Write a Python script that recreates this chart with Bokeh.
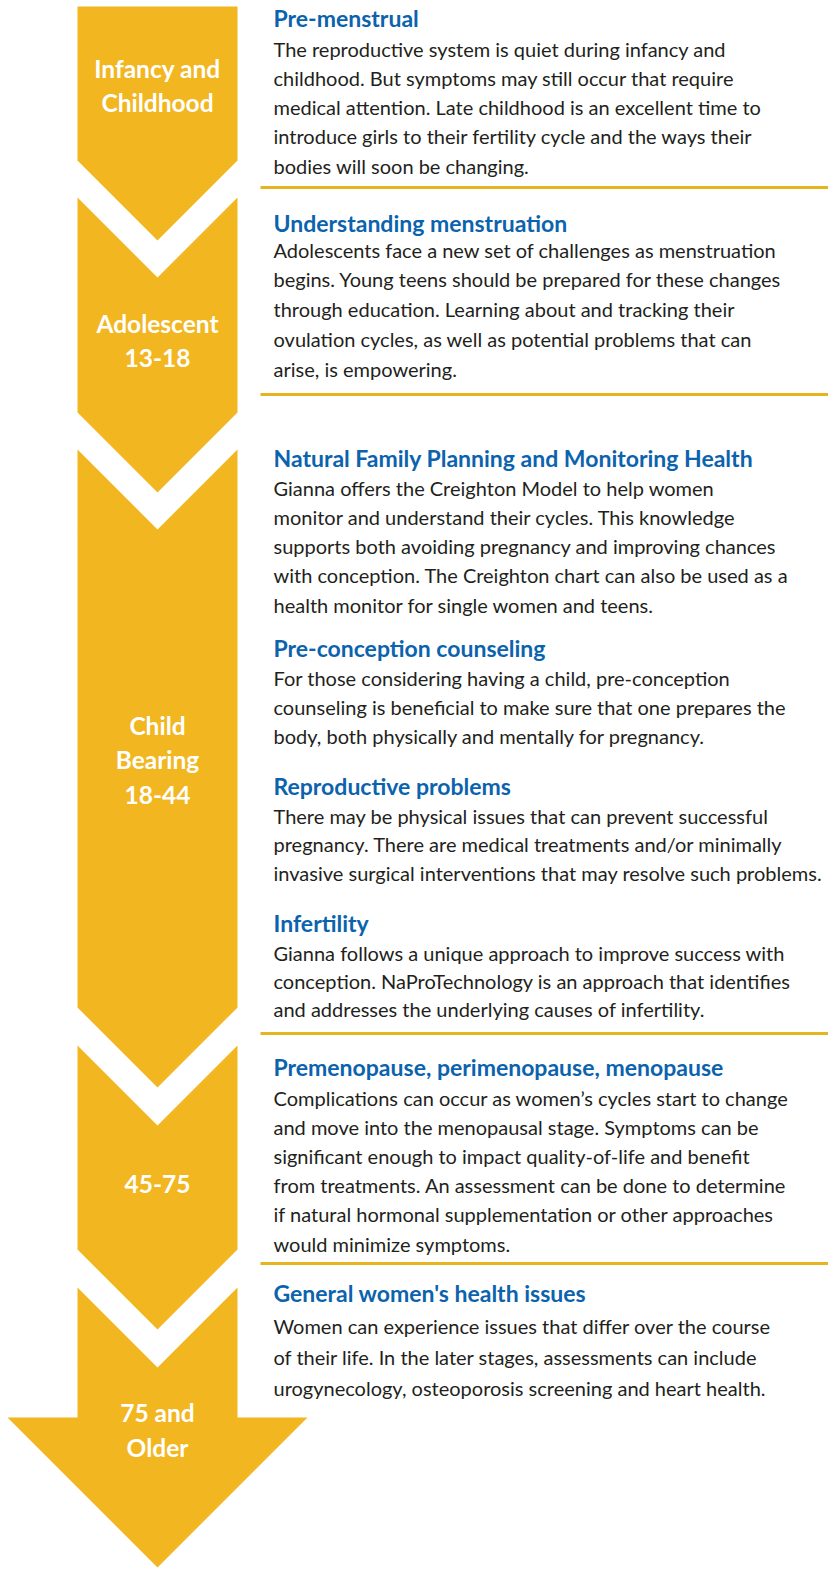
from bokeh.plotting import figure
from bokeh.models import Range1d
from bokeh.core.properties import value
from bokeh.embed import file_html
from bokeh.resources import INLINE

# ---------------- data ----------------
stage_labels = [
    ["Infancy and", "Childhood"],
    ["Adolescent", "13-18"],
    ["Child", "Bearing", "18-44"],
    ["45-75"],
    ["75 and", "Older"],
]

headings = [
    "Pre-menstrual",
    "Understanding menstruation",
    "Natural Family Planning and Monitoring Health",
    "Pre-conception counseling",
    "Reproductive problems",
    "Infertility",
    "Premenopause, perimenopause, menopause",
    "General women's health issues",
]

bodies = [
    ["The reproductive system is quiet during infancy and",
     "childhood. But symptoms may still occur that require",
     "medical attention. Late childhood is an excellent time to",
     "introduce girls to their fertility cycle and the ways their",
     "bodies will soon be changing."],
    ["Adolescents face a new set of challenges as menstruation",
     "begins. Young teens should be prepared for these changes",
     "through education. Learning about and tracking their",
     "ovulation cycles, as well as potential problems that can",
     "arise, is empowering."],
    ["Gianna offers the Creighton Model to help women",
     "monitor and understand their cycles. This knowledge",
     "supports both avoiding pregnancy and improving chances",
     "with conception. The Creighton chart can also be used as a",
     "health monitor for single women and teens."],
    ["For those considering having a child, pre-conception",
     "counseling is beneficial to make sure that one prepares the",
     "body, both physically and mentally for pregnancy."],
    ["There may be physical issues that can prevent successful",
     "pregnancy. There are medical treatments and/or minimally",
     "invasive surgical interventions that may resolve such problems."],
    ["Gianna follows a unique approach to improve success with",
     "conception. NaProTechnology is an approach that identifies",
     "and addresses the underlying causes of infertility."],
    ["Complications can occur as women\u2019s cycles start to change",
     "and move into the menopausal stage. Symptoms can be",
     "significant enough to impact quality-of-life and benefit",
     "from treatments. An assessment can be done to determine",
     "if natural hormonal supplementation or other approaches",
     "would minimize symptoms."],
    ["Women can experience issues that differ over the course",
     "of their life. In the later stages, assessments can include",
     "urogynecology, osteoporosis screening and heart health."],
]

# ---------------- layout ----------------
GOLD = "#F2B621"
RULE = "#E5B41E"
BLUE = "#0B63AE"
INK = "#231F20"

W, H = 828, 1572
seg_tops = [6, 197, 449, 1045, 1287]
seg_bots = [160, 412, 1007, 1249, None]
x_l, x_r, x_c, depth = 77, 237, 157, 80
head_y, head_l, head_r = 1417, 7, 307

stage_label_ys = [[68, 102], [323, 357], [725, 759, 794], [1183], [1412, 1447]]
heading_ys = [17, 222, 457, 647, 785, 922, 1066, 1292]
body_first = [48, 249, 487, 677, 815, 952, 1097, 1325]
body_step = [29.3, 29.8, 29.3, 29.2, 28.5, 28.3, 29.2, 31]
rule_ys = [187, 394, 1033, 1263]
text_x = 273

p = figure(width=W, height=H, x_range=Range1d(0, W), y_range=Range1d(H, 0),
           output_backend="svg", toolbar_location=None,
           x_axis_location=None, y_axis_location=None, min_border=0)
p.outline_line_color = None
p.grid.visible = False
p.background_fill_color = "white"
p.border_fill_color = "white"

# arrow segments
xs, ys = [], []
for i, (t, b) in enumerate(zip(seg_tops, seg_bots)):
    if i == 0:
        px = [x_l, x_r]
        py = [t, t]
    else:
        px = [x_l, x_c, x_r]
        py = [t, t + depth, t]
    if b is not None:
        px += [x_r, x_c, x_l]
        py += [b, b + depth, b]
    else:
        tip = head_y + (head_r - x_c)
        px += [x_r, head_r, x_c, head_l, x_l]
        py += [head_y, head_y, tip, head_y, head_y]
    xs.append(px)
    ys.append(py)
p.patches(xs=xs, ys=ys, fill_color=GOLD, line_color=None)

# stage labels
sl_x, sl_y, sl_t = [], [], []
for lines, yl in zip(stage_labels, stage_label_ys):
    for s, yy in zip(lines, yl):
        sl_x.append(x_c); sl_y.append(yy); sl_t.append(s)
p.text(x=sl_x, y=sl_y, text=sl_t, text_color="white", text_font=value("Lato"),
       text_font_style="bold", text_font_size="24.5px", text_align="center",
       text_baseline="middle")

# separators
p.segment(x0=[260] * len(rule_ys), x1=[W + 2] * len(rule_ys), y0=rule_ys, y1=rule_ys,
          line_color=RULE, line_width=3)

# headings
p.text(x=[text_x] * len(headings), y=heading_ys, text=headings, text_color=BLUE,
       text_font=value("Lato"), text_font_style="bold", text_font_size="23px",
       text_align="left", text_baseline="middle")

# body text
bx, by, bt = [], [], []
for lines, y0, st in zip(bodies, body_first, body_step):
    for k, s in enumerate(lines):
        bx.append(text_x); by.append(y0 + k * st); bt.append(s)
p.text(x=bx, y=by, text=bt, text_color=INK, text_font=value("Lato"),
       text_font_size="20px", text_align="left", text_baseline="middle")

open("out.html", "w").write(file_html(p, INLINE))
